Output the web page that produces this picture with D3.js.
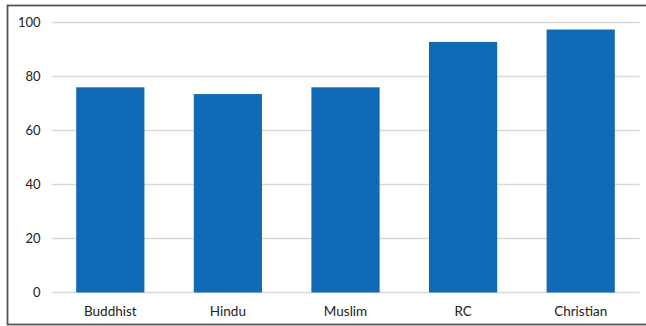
<!DOCTYPE html>
<html>
<head>
<meta charset="utf-8">
<script src="https://cdn.jsdelivr.net/npm/d3@7"></script>
<style>
  html, body { margin: 0; padding: 0; background: #fff; }
  svg { display: block; }
  text { font-family: Lato, "Open Sans", sans-serif; fill: #222; }
</style>
</head>
<body>
<svg id="chart" width="646" height="326"></svg>
<script>
// Data
const categories = ["Buddhist", "Hindu", "Muslim", "RC", "Christian"];
const values = [76, 73.5, 76, 92.8, 97.4];
const yTicks = [0, 20, 40, 60, 80, 100];

const width = 646, height = 326;
const margin = { top: 22.5, right: 6.5, bottom: 33.5, left: 51.5 };

const svg = d3.select("#chart");

// Outer chart frame (right side runs past the edge)
svg.append("rect")
  .attr("x", 7.5).attr("y", 5.5)
  .attr("width", 660).attr("height", 319)
  .attr("fill", "none")
  .attr("stroke", "#555")
  .attr("stroke-width", 1.8);

const x = d3.scaleBand()
  .domain(categories)
  .range([margin.left, width - margin.right])
  .paddingInner(0.42)
  .paddingOuter(0.21);

const y = d3.scaleLinear()
  .domain([0, 100])
  .range([height - margin.bottom, margin.top]);

// Gridlines
svg.append("g")
  .selectAll("line")
  .data(yTicks)
  .join("line")
  .attr("x1", margin.left)
  .attr("x2", width - margin.right)
  .attr("y1", d => y(d))
  .attr("y2", d => y(d))
  .attr("stroke", "#d9d9d9")
  .attr("stroke-width", 1.5);

// Y axis labels
const yAxis = d3.axisLeft(y).tickValues(yTicks).tickSize(0).tickPadding(0);
svg.append("g")
  .attr("transform", `translate(${margin.left - 11},0)`)
  .call(yAxis)
  .call(g => g.select(".domain").remove())
  .call(g => g.selectAll("text")
    .style("font-family", "Lato, 'Open Sans', sans-serif")
    .style("font-size", "13px")
    .attr("fill", "#222"));

// Bars
svg.append("g")
  .selectAll("rect")
  .data(categories)
  .join("rect")
  .attr("x", d => x(d))
  .attr("width", x.bandwidth())
  .attr("y", (d, i) => y(values[i]))
  .attr("height", (d, i) => y(0) - y(values[i]))
  .attr("fill", "#106ab5");

// X axis labels
const xAxis = d3.axisBottom(x).tickSize(0).tickPadding(0);
svg.append("g")
  .attr("transform", `translate(0,${y(0) + 13.5})`)
  .call(xAxis)
  .call(g => g.select(".domain").remove())
  .call(g => g.selectAll("text")
    .style("font-family", "Lato, 'Open Sans', sans-serif")
    .style("font-size", "13.5px")
    .attr("fill", "#222"));
</script>
</body>
</html>
